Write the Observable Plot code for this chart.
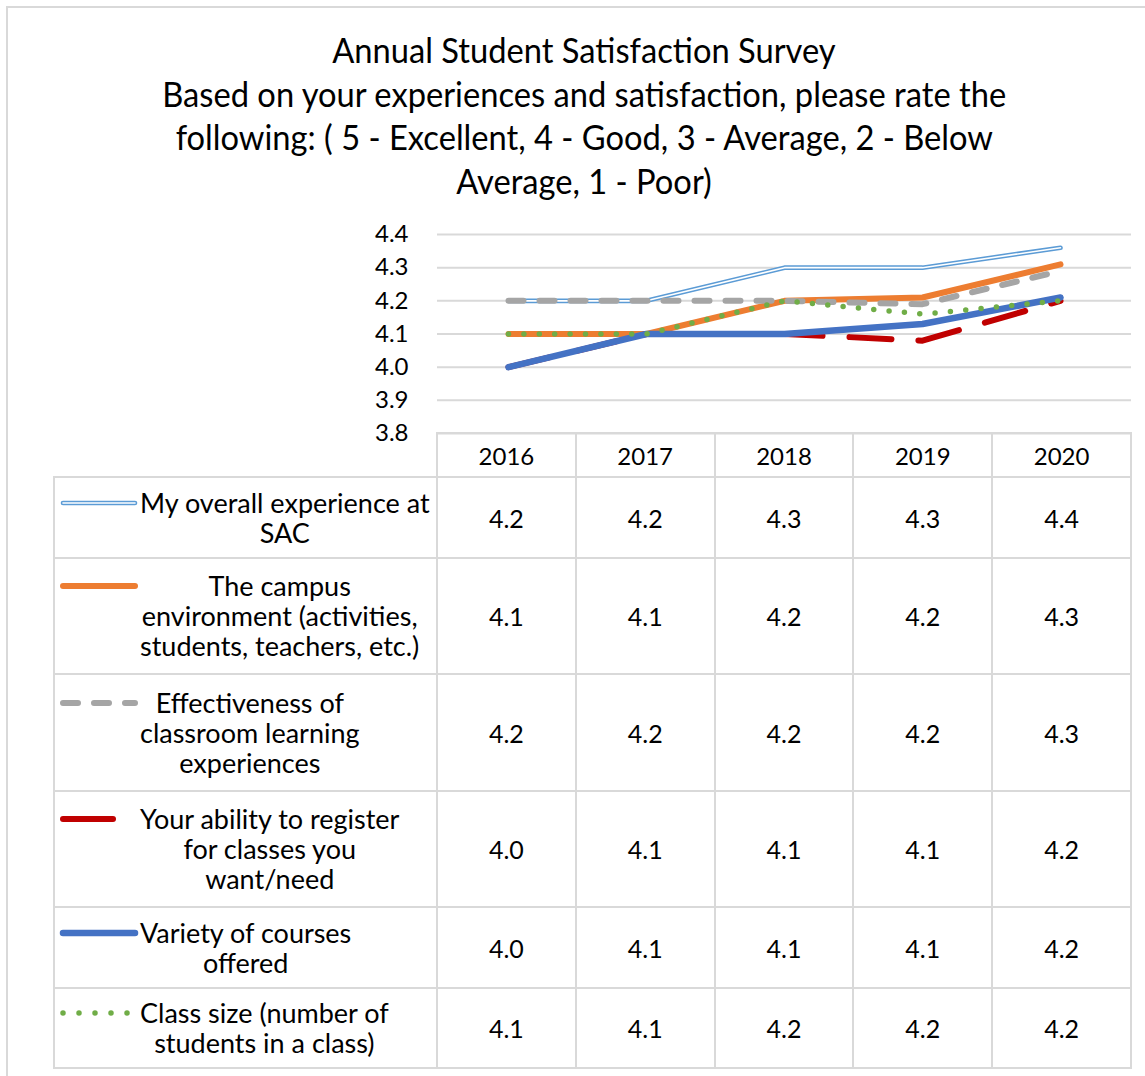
<!DOCTYPE html>
<html>
<head>
<meta charset="utf-8">
<script src="https://cdn.jsdelivr.net/npm/d3@7"></script>
<script src="https://cdn.jsdelivr.net/npm/@observablehq/plot@0.6"></script>
<style>
  html, body { margin: 0; padding: 0; background: #fff; }
  body { width: 1145px; height: 1076px; position: relative; overflow: hidden;
         font-family: Lato, "Open Sans", sans-serif; color: #000; }
  #frame { position: absolute; left: 6px; top: 6px; width: 1170px; height: 1100px;
           border: 2px solid #d9d9d9; box-sizing: border-box; }
  #title { position: absolute; left: 0; top: 28px; width: 1168px; text-align: center;
           font-size: 34px; line-height: 43.7px; }
  #title div { white-space: nowrap; }
  #title span { display: inline-block; transform-origin: center; }
  #chart { position: absolute; left: 0; top: 210px; }
  #tbl { position: absolute; left: 53px; top: 432px; border-collapse: collapse;
         table-layout: fixed; font-size: 24px; z-index: 2; }
  #tbl td { padding: 0; border: 2px solid #d9d9d9; }
  #tbl td.blank { border-top: none; border-left: none; }
  #tbl td.hd, #tbl td.val { text-align: center; vertical-align: middle; }
  #tbl td.val { font-size: 25px; }
  .labin { display: flex; align-items: center; position: relative; }
  .txt { position: relative; margin-left: 85px; text-align: center; line-height: 30px;
         white-space: nowrap; font-size: 27px; }
  .key { position: absolute; left: -80px; top: 9px; overflow: visible; }
</style>
</head>
<body>
<div id="frame"></div>
<div id="title"></div>
<div id="chart"></div>
<table id="tbl"></table>
<script>
// ---------- data ----------
const titleLines = [
  "Annual Student Satisfaction Survey",
  "Based on your experiences and satisfaction, please rate the",
  "following: ( 5 - Excellent, 4 - Good, 3 - Average, 2 - Below",
  "Average, 1 - Poor)"
];
const years = ["2016", "2017", "2018", "2019", "2020"];
const overall       = [4.2, 4.2, 4.3, 4.3, 4.36];
const campus        = [4.1, 4.1, 4.2, 4.21, 4.31];
const effectiveness = [4.2, 4.2, 4.2, 4.19, 4.29];
const register      = [4.0, 4.1, 4.1, 4.08, 4.2];
const variety       = [4.0, 4.1, 4.1, 4.13, 4.21];
const classSize     = [4.1, 4.1, 4.2, 4.16, 4.2];
const seriesNames = ["overall", "campus", "effectiveness", "register", "variety", "classSize"];
const seriesValues = [overall, campus, effectiveness, register, variety, classSize];
const seriesLabels = [
  ["My overall experience at", "SAC"],
  ["The campus", "environment (activities,", "students, teachers, etc.)"],
  ["Effectiveness of", "classroom learning", "experiences"],
  ["Your ability to register", "for classes you", "want/need"],
  ["Variety of courses", "offered"],
  ["Class size (number of", "students in a class)"]
];
const yTicks = [3.8, 3.9, 4.0, 4.1, 4.2, 4.3, 4.4];

// ---------- styles ----------
const styles = {
  overall:       { stroke: "#5b9bd5", width: 4.6, double: true },
  campus:        { stroke: "#ed7d31", width: 6 },
  effectiveness: { stroke: "#a5a5a5", width: 6, dash: "15,16" },
  register:      { stroke: "#c00000", width: 6, dash: "42,27" },
  variety:       { stroke: "#4472c4", width: 6.5 },
  classSize:     { stroke: "#70ad47", width: 5.5, dash: "0,15.4" }
};
const keyLen = { overall: 72, campus: 72, effectiveness: 72, register: 50, variety: 72, classSize: 66 };
const rowHeights = [81, 116, 117, 116, 81, 80];

// ---------- title ----------
const titleEl = document.getElementById("title");
titleLines.forEach(t => {
  const d = document.createElement("div");
  const s = document.createElement("span");
  s.textContent = t;
  d.appendChild(s);
  titleEl.appendChild(d);
});
const spans = titleEl.querySelectorAll("span");
const w2 = spans[1].getBoundingClientRect().width;
const k = 844 / w2;
spans.forEach(s => s.style.transform = `scaleX(${k})`);

// ---------- chart ----------
const rows = seriesNames.flatMap((name, s) =>
  years.map((yr, i) => ({ series: name, year: yr, value: seriesValues[s][i] })));

const lineMarks = [];
seriesNames.forEach(name => {
  const st = styles[name];
  const data = rows.filter(r => r.series === name);
  lineMarks.push(Plot.line(data, {
    x: "year", y: "value", stroke: st.stroke, strokeWidth: st.width,
    strokeDasharray: st.dash, strokeLinecap: "round", strokeLinejoin: "round"
  }));
  if (st.double) {
    lineMarks.push(Plot.line(data, {
      x: "year", y: "value", stroke: "#ffffff", strokeWidth: 1.6,
      strokeLinecap: "round", strokeLinejoin: "round"
    }));
  }
});

const chart = Plot.plot({
  width: 1145,
  height: 250,
  marginTop: 24,
  marginBottom: 27,
  marginLeft: 437,
  marginRight: 14,
  style: { fontFamily: "Lato, sans-serif", fontSize: "24px", color: "#000", background: "transparent", overflow: "visible" },
  x: { type: "point", domain: years, padding: 0.5, axis: null },
  y: { domain: [3.8, 4.4], ticks: yTicks, tickFormat: d => d.toFixed(1), tickSize: 0, tickPadding: 29, label: null },
  marks: [
    Plot.ruleY(yTicks, { stroke: "#d9d9d9", strokeWidth: 2 }),
    ...lineMarks
  ]
});
document.getElementById("chart").appendChild(chart);

// ---------- data table / legend ----------
const svgNS = "http://www.w3.org/2000/svg";
function keySvg(name) {
  const st = styles[name];
  const svg = document.createElementNS(svgNS, "svg");
  svg.setAttribute("class", "key");
  svg.setAttribute("width", 80);
  svg.setAttribute("height", 12);
  const mk = (stroke, w, dash) => {
    const l = document.createElementNS(svgNS, "line");
    l.setAttribute("x1", 3); l.setAttribute("x2", 3 + keyLen[name]);
    l.setAttribute("y1", 6); l.setAttribute("y2", 6);
    l.setAttribute("stroke", stroke);
    l.setAttribute("stroke-width", w);
    l.setAttribute("stroke-linecap", "round");
    if (dash) l.setAttribute("stroke-dasharray", dash);
    svg.appendChild(l);
  };
  if (name === "register") mk(st.stroke, st.width);
  else if (name === "classSize") mk(st.stroke, st.width, "0,16");
  else mk(st.stroke, st.width, st.dash);
  if (st.double) mk("#ffffff", 1.6);
  return svg;
}

const tbl = document.getElementById("tbl");
const cg = document.createElement("colgroup");
[383, ...years.map(() => 138.8)].forEach(w => {
  const c = document.createElement("col");
  c.style.width = w + "px";
  cg.appendChild(c);
});
tbl.appendChild(cg);

const hr = document.createElement("tr");
hr.style.height = "44px";
const blank = document.createElement("td");
blank.className = "blank";
hr.appendChild(blank);
years.forEach(y => {
  const td = document.createElement("td");
  td.className = "hd";
  td.textContent = y;
  hr.appendChild(td);
});
tbl.appendChild(hr);

seriesNames.forEach((name, s) => {
  const tr = document.createElement("tr");
  tr.style.height = rowHeights[s] + "px";
  const lab = document.createElement("td");
  const inner = document.createElement("div");
  inner.className = "labin";
  inner.style.height = (rowHeights[s] - 2) + "px";
  const txt = document.createElement("div");
  txt.className = "txt";
  txt.appendChild(keySvg(name));
  seriesLabels[s].forEach((ln, i) => {
    if (i) txt.appendChild(document.createElement("br"));
    txt.appendChild(document.createTextNode(ln));
  });
  inner.appendChild(txt);
  lab.appendChild(inner);
  tr.appendChild(lab);
  seriesValues[s].forEach(v => {
    const td = document.createElement("td");
    td.className = "val";
    td.textContent = v.toFixed(1);
    tr.appendChild(td);
  });
  tbl.appendChild(tr);
});
</script>
</body>
</html>
